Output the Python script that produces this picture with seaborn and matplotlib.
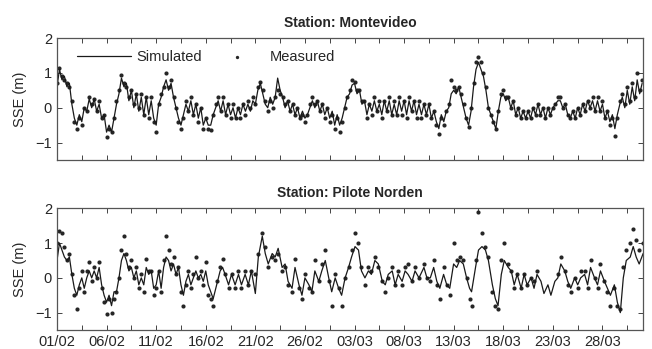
import numpy as np
import pandas as pd
import matplotlib
matplotlib.use("Agg")
import matplotlib.pyplot as plt
import seaborn as sns

# ---------------- data (days since 01/02) ----------------
# Montevideo, 6-hourly readings
sim_mv = [0.6, 1.1, 0.8, 0.9, 0.6, 0.7, 0.1, -0.3, -0.5, -0.2, -0.4, 0.0,
          -0.1, 0.25, 0.0, 0.25, -0.1, 0.1, -0.3, -0.2, -0.7, -0.5, -0.7, -0.3,
          0.1, 0.4, 0.85, 0.6, 0.7, 0.2, 0.5, 0.0, 0.4, -0.1, 0.3, -0.2,
          0.3, -0.2, 0.2, -0.3, -0.5, 0.1, 0.3, 0.6, 0.8, 0.5, 0.7, 0.3,
          0.0, -0.3, -0.5, -0.2, 0.1, -0.1, 0.2, -0.2, 0.1, -0.3, 0.0, -0.5,
          -0.3, -0.5, -0.5, -0.2, 0.0, 0.2, -0.1, 0.2, -0.2, 0.1, -0.2, 0.0,
          -0.3, 0.0, -0.2, 0.1, -0.1, 0.1, -0.1, 0.2, 0.1, 0.5, 0.7, 0.4,
          0.1, 0.0, 0.3, 0.1, 0.3, 0.85, 0.5, 0.3, 0.0, 0.2, -0.1, 0.1,
          -0.2, 0.0, -0.3, -0.1, -0.3, -0.2, 0.0, 0.2, 0.0, 0.2, -0.1, 0.1,
          -0.2, 0.0, -0.3, -0.1, -0.5, -0.2, -0.5, -0.3, 0.0, 0.3, 0.4, 0.65,
          0.7, 0.4, 0.5, 0.1, 0.2, -0.2, 0.1, -0.1, 0.2, -0.1, 0.1, -0.2,
          0.2, -0.1, 0.2, -0.2, 0.1, -0.2, 0.2, -0.1, 0.2, -0.2, 0.2, -0.1,
          0.2, -0.2, 0.1, -0.2, 0.1, -0.2, 0.1, -0.3, -0.1, -0.4, -0.6, -0.2,
          -0.4, -0.1, 0.0, 0.4, 0.5, 0.4, 0.6, 0.3, 0.0, -0.3, -0.5, -0.1,
          0.6, 1.1, 1.3, 1.1, 0.9, 0.5, 0.0, -0.2, -0.4, -0.6, -0.1, 0.3,
          0.4, 0.2, 0.3, 0.0, 0.2, -0.2, 0.0, -0.3, -0.1, -0.3, -0.1, -0.3,
          0.0, -0.2, 0.1, -0.2, 0.0, -0.3, 0.0, -0.2, 0.0, 0.1, 0.2, 0.2,
          0.0, 0.1, -0.2, -0.3, -0.1, -0.3, 0.0, -0.2, 0.1, -0.1, 0.2, 0.0,
          0.2, -0.1, 0.2, -0.1, 0.1, -0.3, -0.1, -0.4, -0.2, -0.6, -0.2, 0.1,
          0.3, 0.0, 0.5, 0.1, 0.6, 0.2, 0.8, 0.4, 0.7]
meas_mv = [0.7, 1.15, 0.9, 0.8, 0.7, 0.6, 0.2, -0.4, -0.6, -0.3, -0.5, 0.0,
           -0.1, 0.3, 0.1, 0.25, -0.1, 0.2, -0.3, -0.2, -0.85, -0.6, -0.7, -0.3,
           0.2, 0.5, 0.95, 0.7, 0.6, 0.3, 0.5, 0.1, 0.4, 0.0, 0.4, -0.2,
           0.3, -0.3, 0.3, -0.4, -0.7, 0.1, 0.4, 0.6, 1.0, 0.6, 0.8, 0.3,
           0.0, -0.4, -0.6, -0.3, 0.2, -0.1, 0.3, -0.2, 0.1, -0.4, 0.0, -0.6,
           -0.3, -0.6, -0.65, -0.2, 0.1, 0.3, -0.1, 0.3, -0.2, 0.1, -0.3, 0.1,
           -0.3, 0.0, -0.3, 0.1, -0.2, 0.2, 0.0, 0.3, 0.1, 0.6, 0.75, 0.5,
           0.2, -0.1, 0.2, 0.0, 0.3, 0.5, 0.4, 0.3, 0.1, 0.2, -0.1, 0.1,
           -0.2, 0.0, -0.3, -0.2, -0.4, -0.2, 0.1, 0.3, 0.1, 0.2, -0.1, 0.1,
           -0.3, 0.0, -0.4, -0.2, -0.6, -0.3, -0.7, -0.4, 0.0, 0.3, 0.5, 0.8,
           0.75, 0.5, 0.5, 0.2, 0.2, -0.3, 0.1, -0.2, 0.3, -0.1, 0.2, -0.3,
           0.2, -0.1, 0.3, -0.2, 0.2, -0.2, 0.3, -0.2, 0.2, -0.3, 0.3, -0.1,
           0.2, -0.3, 0.2, -0.3, 0.1, -0.2, 0.1, -0.3, -0.1, -0.5, -0.75, -0.3,
           -0.5, -0.1, 0.1, 0.8, 0.6, 0.5, 0.6, 0.4, 0.1, -0.3, -0.55, 0.0,
           0.7, 1.3, 1.45, 1.3, 1.0, 0.6, 0.0, -0.2, -0.4, -0.6, -0.1, 0.4,
           0.5, 0.3, 0.3, 0.0, 0.2, -0.2, 0.0, -0.3, -0.1, -0.3, -0.1, -0.3,
           0.0, -0.2, 0.1, -0.2, 0.0, -0.3, 0.0, -0.2, 0.0, 0.1, 0.3, 0.3,
           0.0, 0.1, -0.2, -0.3, -0.1, -0.3, 0.0, -0.2, 0.1, -0.1, 0.2, 0.0,
           0.3, -0.1, 0.3, -0.1, 0.2, -0.3, -0.1, -0.5, -0.3, -0.8, -0.3, 0.2,
           0.4, 0.1, 0.6, 0.2, 0.7, 0.3, 1.0, 0.5, 0.8]

# Pilote Norden
t_pn = [0.0, 0.25, 0.5, 0.75, 1.0, 1.25, 1.5, 1.75, 2.0, 2.25, 2.5, 2.75,
        3.0, 3.25, 3.5, 3.75, 4.0, 4.25, 4.5, 4.75, 5.0, 5.25, 5.5, 5.75,
        6.0, 6.25, 6.5, 6.75, 7.0, 7.25, 7.5, 7.75, 8.0, 8.25, 8.5, 8.75,
        9.0, 9.25, 9.5, 9.75, 10.0, 10.25, 10.5, 10.75, 11.0, 11.25, 11.5, 11.75,
        12.0, 12.25, 12.5, 12.75, 13.0, 13.25, 13.5, 13.75, 14.0, 14.25, 14.5, 14.75,
        15.0, 15.25, 15.5, 15.75, 16.1, 16.45, 16.7, 16.95, 17.3, 17.6, 17.96, 18.3,
        18.6, 18.97, 19.3, 19.6, 20.0, 20.3, 20.7, 21.0, 21.3, 21.7, 22.0, 22.3,
        22.7, 23.0, 23.3, 23.7, 24.0, 24.4, 24.7, 25.0, 25.4, 25.7, 26.0, 26.4,
        26.7, 27.05, 27.4, 27.7, 28.05, 28.4, 28.7, 29.05, 29.4, 29.7, 30.05, 30.4,
        30.7, 31.05, 31.4, 31.7, 32.05, 32.4, 32.8, 33.1, 33.4, 33.8, 34.1, 34.4,
        34.8, 35.1, 35.4, 35.8, 36.1, 36.5, 37.0, 37.3, 37.64, 37.98, 38.3, 38.6,
        38.98, 39.3, 39.6, 39.99, 40.3, 40.6, 40.97, 41.3, 41.6, 41.8, 42.2, 42.5,
        42.85, 43.2, 43.5, 43.9, 44.2, 44.47, 44.8, 45.1, 45.5, 45.8, 46.1, 46.4,
        46.8, 47.1, 47.4, 47.8, 48.1, 48.4, 48.8, 49.1, 49.5, 49.8, 50.2, 50.5,
        50.8, 51.2, 51.5, 51.8, 52.2, 52.5, 52.8, 53.2, 53.5, 53.8, 54.2, 54.5,
        54.8, 55.2, 55.5, 55.8, 56.2, 56.5, 56.8, 57.1, 57.4, 57.8, 58.1, 58.4,
        58.7, 59.1]
sim_pn = [0.5, 1.0, 0.8, 0.6, 0.5, 0.6, 0.1, -0.3, -0.5, -0.2, 0.0, -0.3,
          0.0, 0.2, 0.0, 0.2, 0.0, 0.3, -0.2, -0.5, -0.7, -0.5, -0.8, -0.4,
          -0.4, 0.0, 0.5, 0.7, 0.5, 0.2, 0.3, 0.0, 0.2, -0.2, 0.0, -0.2,
          0.3, 0.1, 0.2, -0.3, -0.2, 0.2, -0.3, 0.3, 0.6, 0.5, 0.2, 0.4,
          0.1, 0.3, -0.2, -0.5, -0.1, 0.1, -0.2, 0.0, 0.2, 0.0, 0.1, -0.1,
          0.2, -0.2, -0.4, -0.6, -0.2, 0.2, 0.3, 0.1, -0.2, 0.1, -0.2, 0.1,
          -0.2, 0.1, -0.2, 0.2, -0.45, 0.6, 1.2, 0.7, 0.4, 0.7, 0.6, 0.85,
          0.3, 0.4, -0.1, -0.3, 0.3, -0.2, -0.5, 0.0, -0.2, -0.4, 0.2, -0.1,
          0.2, 0.5, 0.0, -0.4, 0.0, -0.3, -0.5, 0.0, 0.3, 0.6, 0.9, 0.8,
          0.2, 0.0, 0.2, 0.1, 0.5, 0.4, -0.1, -0.2, 0.1, 0.2, -0.2, 0.1,
          -0.1, 0.2, 0.1, -0.1, 0.2, 0.0, 0.3, 0.0, 0.0, 0.3, -0.1, -0.3,
          0.1, -0.2, -0.3, 0.4, 0.3, 0.5, 0.4, 0.0, -0.3, -0.4, 0.3, 0.8,
          0.9, 0.8, 0.5, -0.2, -0.6, -0.8, 0.1, 0.5, 0.3, 0.2, -0.2, 0.1,
          -0.3, 0.1, -0.2, 0.0, -0.3, 0.1, -0.1, -0.45, -0.2, -0.5, -0.1, 0.0,
          0.4, 0.2, -0.1, -0.3, 0.0, -0.2, 0.0, 0.1, -0.2, 0.3, 0.0, -0.2,
          0.2, -0.1, -0.3, -0.5, -0.2, -0.7, -1.0, 0.0, 0.5, 0.6, 0.9, 0.6,
          0.4, 0.7]
meas_pn = [1.0, 1.35, 1.3, 0.9, 0.5, 0.7, 0.1, -0.5, -0.9, -0.3, 0.2, -0.4,
           0.2, 0.45, -0.1, 0.3, 0.0, 0.45, -0.3, -0.7, -1.05, -0.6, -1.0, -0.6,
           -0.4, 0.0, 0.8, 1.2, 0.7, 0.3, 0.5, 0.0, 0.3, -0.3, 0.1, -0.4,
           0.55, 0.2, 0.2, -0.5, -0.3, 0.2, -0.4, 0.5, 1.2, 0.8, 0.4, 0.6,
           0.1, 0.3, -0.4, -0.8, -0.2, 0.2, -0.3, 0.1, 0.6, 0.0, 0.2, -0.2,
           0.45, -0.5, -0.6, -0.8, -0.1, 0.3, 0.55, 0.1, -0.3, 0.1, -0.3, 0.2,
           -0.3, 0.2, -0.2, 0.2, 0.1, 0.7, 1.3, 0.9, 0.3, 0.6, 0.5, 0.7,
           0.2, 0.3, -0.2, -0.4, 0.55, -0.3, -0.6, 0.1, -0.3, -0.4, 0.5, -0.1,
           0.4, 0.8, -0.1, -0.8, 0.1, -0.3, -0.8, 0.0, 0.3, 0.8, 1.3, 1.0,
           0.3, -0.2, 0.3, 0.2, 0.6, 0.3, -0.1, -0.4, 0.0, 0.3, -0.2, 0.2,
           -0.2, 0.3, 0.4, -0.1, 0.3, 0.0, 0.4, 0.0, -0.1, 0.5, -0.2, -0.6,
           0.3, -0.2, -0.5, 1.0, 0.5, 0.6, 0.5, 0.0, -0.6, -0.8, 0.5, 1.9,
           1.3, 0.9, 0.6, -0.4, -0.8, -0.9, 0.5, 1.0, 0.4, 0.2, -0.3, 0.1,
           -0.3, 0.1, -0.2, 0.0, -0.1, 0.2, np.nan, np.nan, np.nan, np.nan, np.nan, 0.1,
           0.6, 0.2, -0.2, -0.4, 0.0, -0.3, 0.2, 0.2, -0.3, 0.5, 0.0, -0.3,
           0.4, -0.1, -0.4, -0.8, -0.3, -0.8, -0.9, 0.3, 0.8, 1.0, 1.4, 1.1,
           0.8, 1.0]

tick_days = [0, 2.5, 5, 7.5, 10, 12.5, 15, 17.5, 20, 22.5, 25, 27.5,
             30, 32.5, 35, 37.5, 40, 42.5, 45, 47.5, 50, 52.5, 55, 57.5]
tick_labels = ["01/02", "", "06/02", "", "11/02", "", "16/02", "", "21/02", "",
               "26/02", "", "03/03", "", "08/03", "", "13/03", "", "18/03", "",
               "23/03", "", "28/03", ""]
y_ticks = [-1, 0, 1, 2]
titles = ["Station: Montevideo", "Station: Pilote Norden"]

t_mv = np.arange(len(sim_mv)) * 0.25
df_mv = pd.DataFrame({"t": t_mv, "sim": sim_mv, "meas": meas_mv})
df_pn = pd.DataFrame({"t": t_pn, "sim": sim_pn, "meas": meas_pn})

# ---------------- figure ----------------
sns.set_style("ticks")
plt.rcParams['font.family'] = ['Liberation Sans', 'DejaVu Sans']
plt.rcParams['font.size'] = 10

fig = plt.figure(figsize=(6.52, 3.49), dpi=100)
ax1 = fig.add_axes([0.0874, 0.5415, 0.899, 0.3496])
ax2 = fig.add_axes([0.0874, 0.0544, 0.899, 0.3486])

line_c = "#1a1a1a"
dot_c = "#262626"

for ax, df, title in [(ax1, df_mv, titles[0]), (ax2, df_pn, titles[1])]:
    sns.lineplot(data=df, x="t", y="sim", ax=ax, color=line_c, linewidth=0.9,
                 estimator=None, sort=False, label="Simulated")
    sns.scatterplot(data=df.dropna(), x="t", y="meas", ax=ax, color=dot_c, s=9,
                    linewidth=0, label="Measured")
    ax.set_xlim(0, 59.1)
    ax.set_ylim(-1.5, 2)
    ax.set_yticks(y_ticks)
    ax.set_xticks(tick_days)
    ax.set_xlabel("")
    ax.set_ylabel("SSE (m)", fontsize=10.5, labelpad=6)
    ax.set_title(title, fontweight="bold", fontsize=10, pad=8)
    ax.tick_params(direction="in", top=True, right=True, length=3.5, width=0.7,
                   color="#444444", labelsize=10.5)
    for sp in ax.spines.values():
        sp.set_color("#555555")
        sp.set_linewidth(0.9)
    ax.get_legend().remove()

ax1.set_xticklabels([])
ax2.set_xticklabels(tick_labels)

h, l = ax1.get_legend_handles_labels()
ax1.legend(h, l, loc="upper left", bbox_to_anchor=(0.034, 0.9), ncol=2,
           frameon=False, borderpad=0, borderaxespad=0, handlelength=3.7,
           handletextpad=0.4, columnspacing=0.5, numpoints=1, markerscale=0.8,
           fontsize=10.5)

fig.savefig("out.png", dpi=100)
